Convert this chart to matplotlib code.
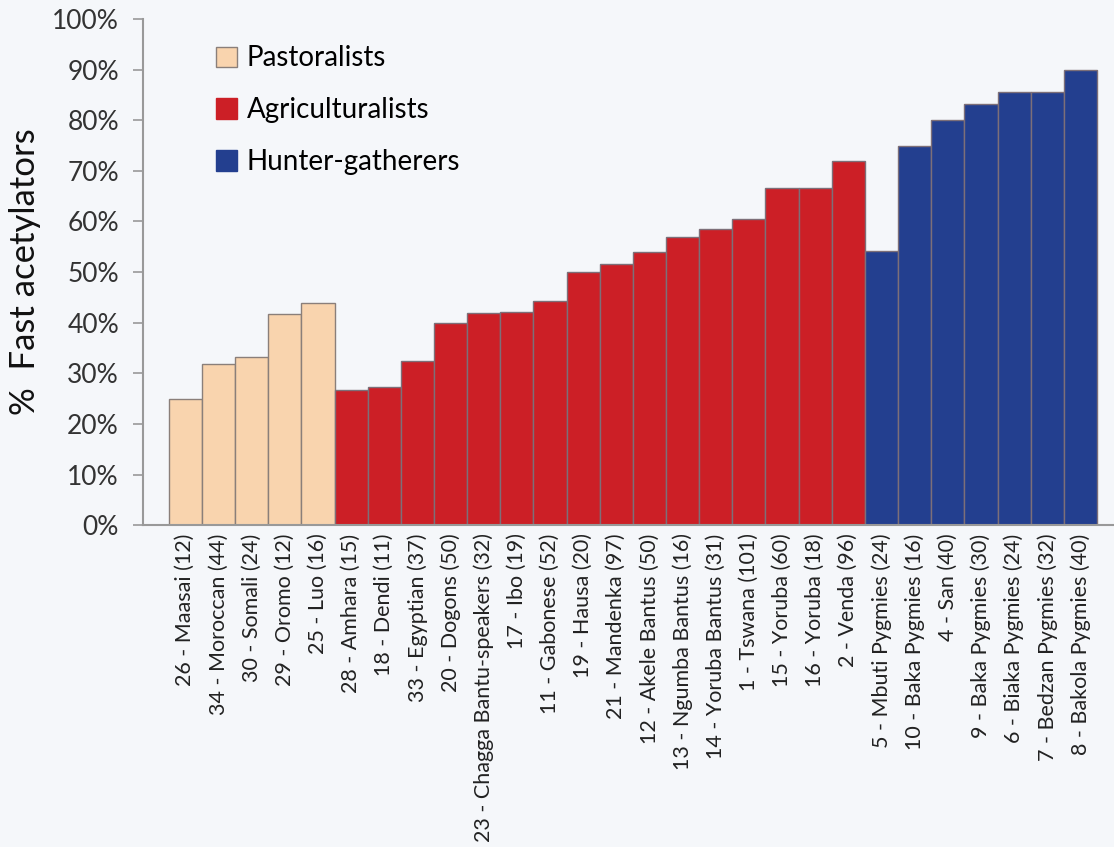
import matplotlib
matplotlib.use("Agg")
from matplotlib import pyplot as plt
from matplotlib.patches import Patch
from matplotlib.ticker import PercentFormatter

# 집단 이름 (표본 수)
pastoral_names = ["26 - Maasai (12)", "34 - Moroccan (44)", "30 - Somali (24)",
                  "29 - Oromo (12)", "25 - Luo (16)"]
pastoral_vals = [25.0, 31.8, 33.3, 41.7, 43.8]

agri_names = ["28 - Amhara (15)", "18 - Dendi (11)", "33 - Egyptian (37)",
              "20 - Dogons (50)", "23 - Chagga Bantu-speakers (32)", "17 - Ibo (19)",
              "11 - Gabonese (52)", "19 - Hausa (20)", "21 - Mandenka (97)",
              "12 - Akele Bantus (50)", "13 - Ngumba Bantus (16)",
              "14 - Yoruba Bantus (31)", "1 - Tswana (101)", "15 - Yoruba (60)",
              "16 - Yoruba (18)", "2 - Venda (96)"]
agri_vals = [26.7, 27.3, 32.4, 40.0, 42.0, 42.1, 44.2, 50.0, 51.5, 54.0, 57.0,
             58.5, 60.4, 66.7, 66.7, 71.9]

hunter_names = ["5 - Mbuti Pygmies (24)", "10 - Baka Pygmies (16)", "4 - San (40)",
                "9 - Baka Pygmies (30)", "6 - Biaka Pygmies (24)",
                "7 - Bedzan Pygmies (32)", "8 - Bakola Pygmies (40)"]
hunter_vals = [54.2, 75.0, 80.0, 83.3, 85.6, 85.6, 90.0]

c_past = "#F9D4AE"
c_agri = "#CC1F26"
c_hunt = "#233F8F"
bg = "#F5F7FA"

plt.rcParams['font.family'] = ['Lato', 'DejaVu Sans']

names = pastoral_names + agri_names + hunter_names
vals = pastoral_vals + agri_vals + hunter_vals
colors = [c_past] * len(pastoral_vals) + [c_agri] * len(agri_vals) + [c_hunt] * len(hunter_vals)
x = list(range(len(vals)))

fig = plt.figure(figsize=(11.14, 8.47), dpi=100, facecolor=bg)
ax = fig.add_axes([0.128, 0.380, 0.871, 0.5976], facecolor=bg)

edges = ["#8a7f7a" if c == c_past else "#7d6f78" for c in colors]
ax.bar(x, vals, width=1.0, color=colors, edgecolor=edges, linewidth=1.0)

ax.set_ylim(0, 100)
ax.set_xlim(-1.29, 27.98)
ax.set_yticks(range(0, 101, 10))
ax.yaxis.set_major_formatter(PercentFormatter(decimals=0))
ax.set_xticks(x)
ax.set_xticklabels(names, rotation=90, fontsize=15.5, color="#222222")
ax.tick_params(axis='x', length=0, pad=6)
ax.tick_params(axis='y', labelsize=19, colors="#333333", length=7, width=1.2,
               color="#999999", pad=10)

for s in ["top", "right"]:
    ax.spines[s].set_visible(False)
for s in ["left", "bottom"]:
    ax.spines[s].set_color("#999999")
    ax.spines[s].set_linewidth(1.5)

ax.set_ylabel("%  Fast acetylators", fontsize=25, color="#111111", labelpad=8)

handles = [Patch(facecolor=c_past, edgecolor="#8a7f7a", label="Pastoralists"),
           Patch(facecolor=c_agri, edgecolor=c_agri, label="Agriculturalists"),
           Patch(facecolor=c_hunt, edgecolor=c_hunt, label="Hunter-gatherers")]
ax.legend(handles=handles, loc="upper left", bbox_to_anchor=(0.05, 0.997),
          frameon=False, fontsize=20, handlelength=0.75, handleheight=0.75,
          handletextpad=0.35, labelspacing=0.93)

fig.savefig("out.png", dpi=100, facecolor=bg)
